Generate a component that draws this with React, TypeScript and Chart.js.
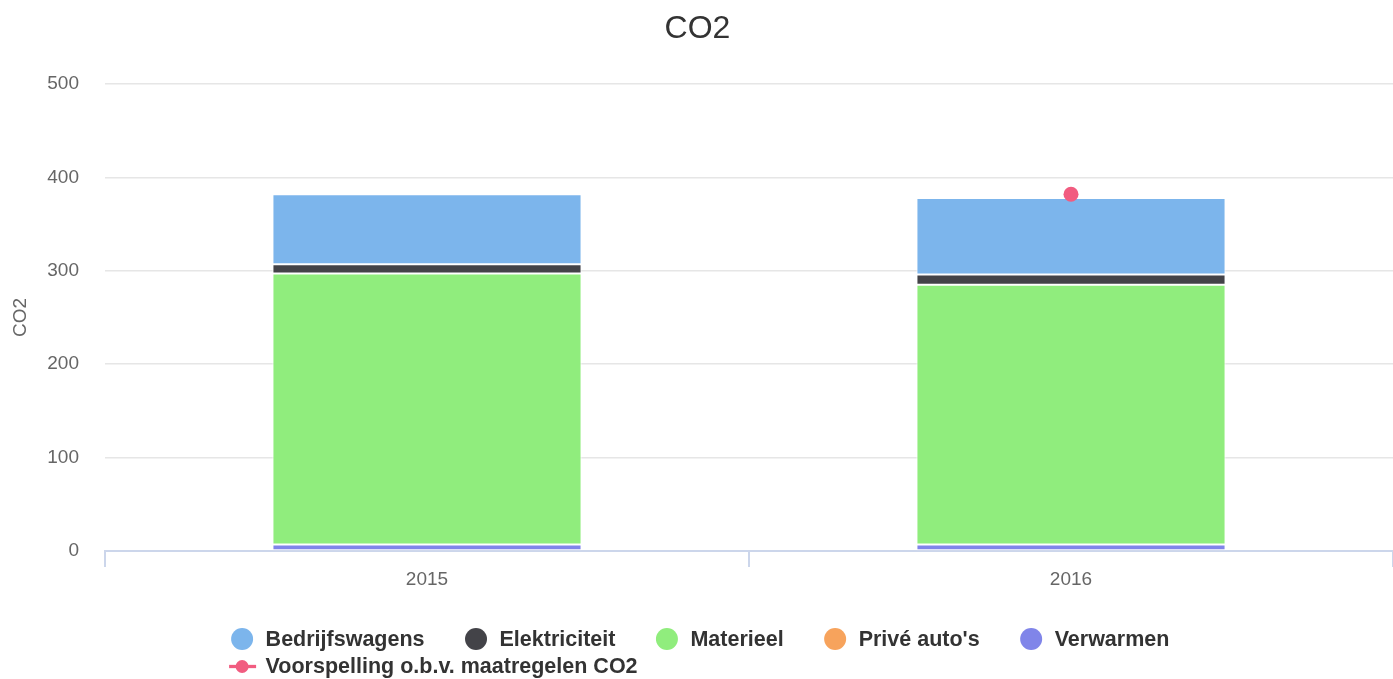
import { useEffect, useRef } from 'react';
import { Chart, registerables } from 'chart.js';

Chart.register(...registerables);

const FONT = '"Liberation Sans", Arial, Helvetica, sans-serif';

const categories = ['2015', '2016'];
const bedrijfswagens = [75, 82];
const elektriciteit = [10, 11];
const materieel = [290, 278];
const priveAutos = [0, 0];
const verwarmen = [7, 7];
const voorspelling: (number | null)[] = [null, 382];
const yTickValues = [0, 100, 200, 300, 400, 500];

const legendOrder = [
  'Bedrijfswagens',
  'Elektriciteit',
  'Materieel',
  "Privé auto's",
  'Verwarmen',
  'Voorspelling o.b.v. maatregelen CO2',
];

const colors: Record<string, string> = {
  Bedrijfswagens: '#7cb5ec',
  Elektriciteit: '#434348',
  Materieel: '#90ed7d',
  "Privé auto's": '#f7a35c',
  Verwarmen: '#8085e9',
  'Voorspelling o.b.v. maatregelen CO2': '#f15c80',
};

const LEGEND_FONT = 21.5;

const legendPlugin = {
  id: 'hcLegend',
  afterDraw(chart: any) {
    const { ctx } = chart;
    const datasets = chart.data.datasets;
    const items = legendOrder
      .map((label) => datasets.find((d: any) => d.label === label))
      .filter(Boolean);
    ctx.save();
    ctx.font = `bold ${LEGEND_FONT}px ${FONT}`;
    ctx.textBaseline = 'middle';
    ctx.textAlign = 'left';
    const textOffset = 35;
    const itemGap = 40;
    const maxRow = 1150;
    const rows: any[][] = [[]];
    const rowWidths: number[] = [0];
    items.forEach((d: any) => {
      const w = textOffset + ctx.measureText(d.label).width;
      const cur = rows[rows.length - 1];
      const add = cur.length ? itemGap + w : w;
      if (cur.length && rowWidths[rowWidths.length - 1] + add > maxRow) {
        rows.push([{ d, w }]);
        rowWidths.push(w);
      } else {
        cur.push({ d, w });
        rowWidths[rowWidths.length - 1] += add;
      }
    });
    const boxW = Math.max(...rowWidths);
    const left = (chart.width - boxW) / 2 + 3.5;
    const top = chart.chartArea.bottom + 88;
    rows.forEach((row, ri) => {
      let x = left;
      const y = top + ri * 27.5;
      row.forEach(({ d, w }: any) => {
        const c = d.backgroundColor;
        if (d.type === 'line') {
          ctx.strokeStyle = c;
          ctx.lineWidth = 3.3;
          ctx.beginPath();
          ctx.moveTo(x - 1.5, y);
          ctx.lineTo(x + 25.5, y);
          ctx.stroke();
          ctx.fillStyle = c;
          ctx.beginPath();
          ctx.arc(x + 11.5, y, 6.5, 0, Math.PI * 2);
          ctx.fill();
        } else {
          ctx.fillStyle = c;
          ctx.beginPath();
          ctx.arc(x + 11.5, y, 11, 0, Math.PI * 2);
          ctx.fill();
        }
        ctx.fillStyle = '#333333';
        ctx.fillText(d.label, x + textOffset, y + 1);
        x += w + itemGap;
      });
    });
    ctx.restore();
  },
};

function barDs(label: string, data: number[]) {
  return {
    type: 'bar' as const,
    label,
    data,
    backgroundColor: colors[label],
    borderColor: '#ffffff',
    borderWidth: 1,
    borderSkipped: false,
    categoryPercentage: 0.8,
    barPercentage: 0.6,
    order: 1,
  };
}

export default function App() {
  const ref = useRef<HTMLCanvasElement>(null);
  useEffect(() => {
    document.body.style.margin = '0';
    Chart.defaults.font.family = FONT;
    const chart = new Chart(ref.current as HTMLCanvasElement, {
      type: 'bar',
      data: {
        labels: categories,
        datasets: [
          barDs('Verwarmen', verwarmen),
          barDs("Privé auto's", priveAutos),
          barDs('Materieel', materieel),
          barDs('Elektriciteit', elektriciteit),
          barDs('Bedrijfswagens', bedrijfswagens),
          {
            type: 'line' as const,
            label: 'Voorspelling o.b.v. maatregelen CO2',
            data: voorspelling,
            borderColor: colors['Voorspelling o.b.v. maatregelen CO2'],
            backgroundColor: colors['Voorspelling o.b.v. maatregelen CO2'],
            borderWidth: 3.5,
            pointRadius: 7.5,
            pointBorderWidth: 0,
            stack: 'forecast',
            order: 0,
          } as any,
        ],
      },
      options: {
        responsive: false,
        animation: false,
        devicePixelRatio: 1,
        layout: { autoPadding: false, padding: { left: 0, right: -2, top: 0, bottom: 74 } },
        plugins: {
          legend: { display: false },
          tooltip: { enabled: false },
          title: {
            display: true,
            text: 'CO2',
            color: '#333333',
            font: { size: 32, weight: 'normal', family: FONT },
            padding: { top: 10, bottom: 35.6 },
          },
        },
        scales: {
          x: {
            stacked: true,
            offset: true,
            ticks: { color: '#666666', font: { size: 19, family: FONT }, padding: 1 },
            grid: {
              display: true,
              drawOnChartArea: false,
              drawTicks: true,
              tickLength: 16,
              color: '#ccd6eb',
              lineWidth: 2,
              offset: true,
            },
            border: { display: true, color: '#ccd6eb', width: 2 },
            afterFit: (s: any) => {
              s.height = 54;
              s.paddingLeft = 0;
              s.paddingRight = 0;
            },
          },
          y: {
            stacked: true,
            min: yTickValues[0],
            max: yTickValues[yTickValues.length - 1],
            afterBuildTicks: (s: any) => {
              s.ticks = yTickValues.map((v) => ({ value: v }));
            },
            ticks: { color: '#666666', font: { size: 19, family: FONT }, padding: 26 },
            grid: { color: '#e6e6e6', lineWidth: 1.5, drawTicks: false },
            border: { display: false },
            title: {
              display: true,
              text: 'CO2',
              color: '#666666',
              font: { size: 19, family: FONT },
              padding: { top: 9, bottom: 0 },
            },
            afterFit: (s: any) => {
              s.width = 105;
            },
          },
        },
      },
      plugins: [legendPlugin],
    });
    return () => chart.destroy();
  }, []);
  return (
    <div style={{ width: 1393, height: 679 }}>
      <canvas ref={ref} width={1393} height={679} style={{ width: 1393, height: 679, display: 'block' }} />
    </div>
  );
}
